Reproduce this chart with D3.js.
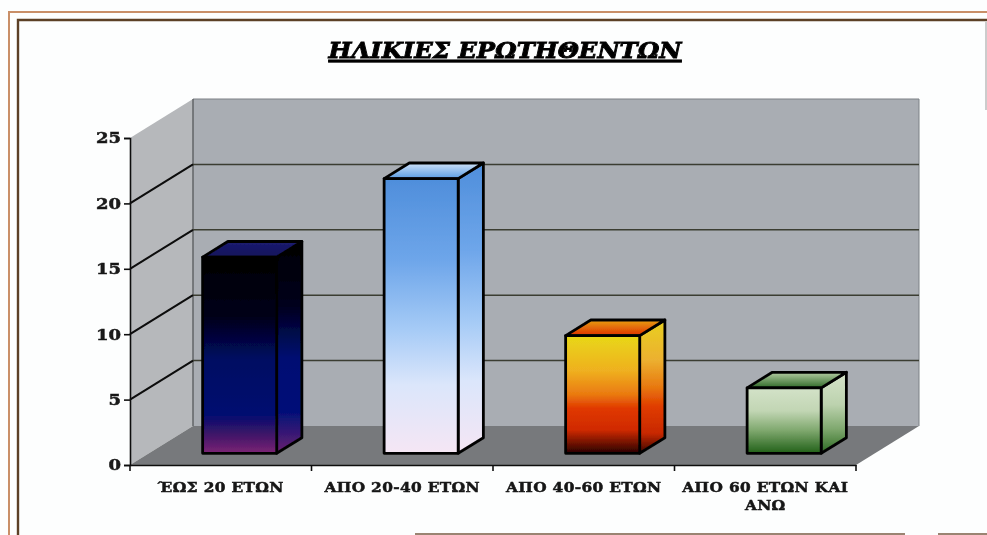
<!DOCTYPE html>
<html><head><meta charset="utf-8">
<script src="https://cdn.jsdelivr.net/npm/d3@7/dist/d3.min.js"></script>
<style>html,body{margin:0;padding:0;background:#fdfefe;overflow:hidden}svg{display:block}</style>
</head><body><div id="c"></div>
<script>
const titleText = "ΗΛΙΚΙΕΣ ΕΡΩΤΗΘΕΝΤΩΝ";
const categories = ["ΈΩΣ 20 ΕΤΩΝ","ΑΠΟ 20-40 ΕΤΩΝ","ΑΠΟ 40-60 ΕΤΩΝ","ΑΠΟ 60 ΕΤΩΝ ΚΑΙ ΑΝΩ"];
const values = [15,21,9,5];
const yTicks = [0,5,10,15,20,25];
const frontStops = [
  [[0,"#000000"],[.3,"#000018"],[.52,"#000a62"],[.8,"#000e70"],[.9,"#3c1468"],[1,"#7c2474"]],
  [[0,"#4f8edb"],[.3,"#6ea6ea"],[.55,"#a6cbf6"],[.75,"#dbe6fb"],[1,"#f5e6f4"]],
  [[0,"#e8d818"],[.3,"#efb020"],[.5,"#ea7a10"],[.62,"#e03800"],[.8,"#d02a00"],[1,"#280000"]],
  [[0,"#d3e2c8"],[.35,"#c2d6b4"],[.65,"#7fa86e"],[1,"#216018"]]
];
const sideStops = [
  [[0,"#000000"],[.3,"#00001c"],[.55,"#000f72"],[.8,"#001078"],[1,"#6a2070"]],
  [[0,"#4f8edb"],[.3,"#6ea6ea"],[.55,"#a6cbf6"],[.75,"#dbe6fb"],[1,"#f5e6f4"]],
  [[0,"#e8d020"],[.3,"#ecb030"],[.5,"#e87a10"],[.65,"#e03c00"],[.85,"#c82800"],[1,"#3a0600"]],
  [[0,"#d6e4ca"],[.4,"#bcd2ae"],[.7,"#7fa86e"],[1,"#2c6a22"]]
];
const topStops = [
  [[0,"#10105a"],[1,"#1c1c70"]],
  [[0,"#5a9ce4"],[1,"#cfe2f8"]],
  [[0,"#de3000"],[1,"#e8a010"]],
  [[0,"#2f6a28"],[1,"#b4cca2"]]
];
const W=987,H=535;
const svg=d3.select("#c").append("svg").attr("width",W).attr("height",H);
const defs=svg.append("defs");
const soft=defs.append("filter").attr("id","soft").attr("x",0).attr("y",0).attr("width",1).attr("height",1);
soft.append("feGaussianBlur").attr("stdDeviation",0.6);
const x=d3.scaleBand().domain(categories).range([130,856]).paddingInner(.592).paddingOuter(.296);
const y=d3.scaleLinear().domain([0,25]).range([465,138]);
const depthX=d3.scaleLinear().domain([0,1]).range([0,63]);
const depthY=d3.scaleLinear().domain([0,1]).range([0,-39]);
const barFront=.3, barBack=.7;
const pts=a=>a.map(p=>p.join(",")).join(" ");
function grad(id,stops,x1,y1,x2,y2){
  const g=defs.append("linearGradient").attr("id",id).attr("x1",x1).attr("y1",y1).attr("x2",x2).attr("y2",y2);
  stops.forEach(s=>g.append("stop").attr("offset",s[0]).attr("stop-color",s[1]));
}
values.forEach((v,i)=>{
  grad("f"+i,frontStops[i],0,0,0,1);
  grad("s"+i,sideStops[i],0,0,0,1);
  grad("t"+i,topStops[i],0,1,0,0);
});
const root=svg.append("g").attr("filter","url(#soft)");
root.append("rect").attr("width",W).attr("height",H).attr("fill","#fdfefe");
// page frame
const frame=root.append("g").attr("fill","none");
frame.append("path").attr("d",`M${W} 12H9V${H}`).attr("stroke","#c98f68").attr("stroke-width",2);
frame.append("path").attr("d",`M${W} 20H18V${H}`).attr("stroke","#5c4028").attr("stroke-width",2.4);
frame.append("path").attr("d",`M986 22V110`).attr("stroke","#9a9a9a").attr("stroke-width",1);
frame.append("path").attr("d",`M415 534H905M938 534H${W}`).attr("stroke","#7a5c44").attr("stroke-width",1.6);
// walls
const X0=x.range()[0],X1=x.range()[1],Y0=y(0),Yt=y(25),dx=depthX(1),dy=depthY(1);
root.append("polygon").attr("points",pts([[X0+dx,Yt+dy],[X1+dx,Yt+dy],[X1+dx,Y0+dy],[X0+dx,Y0+dy]])).attr("fill","#a9adb3");
root.append("polygon").attr("points",pts([[X0,Yt],[X0+dx,Yt+dy],[X0+dx,Y0+dy],[X0,Y0]])).attr("fill","#b6b8bb");
root.append("polygon").attr("points",pts([[X0,Y0],[X1,Y0],[X1+dx,Y0+dy],[X0+dx,Y0+dy]])).attr("fill","#77797b");
root.append("path").attr("d",`M${X1+dx} ${Y0+dy}V${Yt+dy}H${X0+dx}`).attr("fill","none").attr("stroke","#7d8186").attr("stroke-width",1);
root.append("line").attr("x1",X0+dx).attr("x2",X0+dx).attr("y1",Yt+dy).attr("y2",Y0+dy).attr("stroke","#55585a").attr("stroke-width",1.3);
// gridlines
const grid=root.append("g").selectAll("g").data(yTicks.filter(t=>t>0&&t<25)).join("g");
grid.append("line").attr("x1",X0+dx).attr("x2",X1+dx).attr("y1",d=>y(d)+dy).attr("y2",d=>y(d)+dy).attr("stroke","#3a3c30").attr("stroke-width",1.5);
grid.append("line").attr("x1",X0).attr("x2",X0+dx).attr("y1",d=>y(d)).attr("y2",d=>y(d)+dy).attr("stroke","#0c0c0c").attr("stroke-width",2);
// axes
const labelFont='"DejaVu Serif",serif';
const yAxis=root.append("g").attr("transform",`translate(${X0},0)`).call(d3.axisLeft(y).tickValues(yTicks).tickSize(6).tickPadding(4));
const xAxis=root.append("g").attr("transform",`translate(0,${Y0})`).call(d3.axisBottom(x).tickSize(0).tickFormat(""));
xAxis.selectAll(".tick").remove();
const edges=[X0].concat(categories.map((c,i)=>X0+(i+1)*x.step()));
xAxis.selectAll("line.edge").data(edges).join("line").attr("class","edge").attr("x1",d=>d).attr("x2",d=>d).attr("y1",0).attr("y2",6);
[yAxis,xAxis].forEach(a=>{a.selectAll("path,line").attr("stroke","#111").attr("stroke-width",1.6)});
yAxis.selectAll(".tick text").each(function(){
  d3.select(this).attr("x",null).attr("text-anchor","end").attr("transform","translate(-9,0) scale(1.2,1)")
    .attr("font-family",labelFont).attr("font-weight","bold").attr("font-size",15).attr("fill","#1a1a1a")
    .attr("stroke","#1a1a1a").attr("stroke-width",.5);
});
// bars
const bars=root.append("g").selectAll("g").data(values).join("g");
bars.each(function(v,i){
  const g=d3.select(this);
  const l=x(categories[i])+depthX(barFront), r=l+x.bandwidth();
  const b=y(0)+depthY(barFront), t=y(v)+depthY(barFront);
  const ox=depthX(barBack)-depthX(barFront), oy=depthY(barBack)-depthY(barFront);
  const st={stroke:"#050505","stroke-width":2.8,"stroke-linejoin":"round"};
  const add=(p,f)=>{const e=g.append("polygon").attr("points",pts(p)).attr("fill",f);Object.entries(st).forEach(([k,val])=>e.attr(k,val));};
  add([[r,t],[r+ox,t+oy],[r+ox,b+oy],[r,b]],`url(#s${i})`);
  add([[l,t],[l+ox,t+oy],[r+ox,t+oy],[r,t]],`url(#t${i})`);
  add([[l,t],[r,t],[r,b],[l,b]],`url(#f${i})`);
});
// category labels
const lab=root.append("g").attr("font-family",labelFont).attr("font-weight","bold").attr("font-size",13.5).attr("fill","#161616").attr("stroke","#161616").attr("stroke-width",.5).attr("text-anchor","middle");
categories.forEach((c,i)=>{
  const cx=x(c)+x.bandwidth()/2;
  const lines=c.length>16?[c.slice(0,c.lastIndexOf(" ")),c.slice(c.lastIndexOf(" ")+1)]:[c];
  lines.forEach((s,j)=>lab.append("text").attr("transform",`translate(${cx},${Y0+27+j*17.5}) scale(1.14,1)`).attr("letter-spacing",.3).text(s));
});
// title
root.append("text").attr("transform","translate(505,58) scale(1.08,1)").attr("text-anchor","middle").attr("font-family",labelFont)
 .attr("font-weight","bold").attr("font-style","italic").attr("font-size",22.5).attr("fill","#050505").attr("stroke","#050505").attr("stroke-width",.9)
 .attr("text-decoration","underline").text(titleText);
</script></body></html>
